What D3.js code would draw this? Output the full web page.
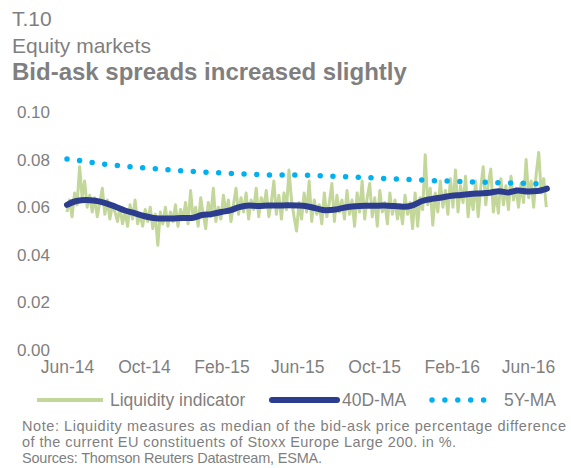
<!DOCTYPE html>
<html>
<head>
<meta charset="utf-8">
<script src="https://cdn.jsdelivr.net/npm/d3@7"></script>
<style>
  html, body { margin: 0; padding: 0; background: #fff; }
  svg { display: block; font-family: "Liberation Sans", Arial, sans-serif; }
</style>
</head>
<body>
<svg id="chart" width="571" height="468"></svg>
<script>
// Daily liquidity indicator, sampled every 4 days from 1 June 2014
const liquidityStart = new Date(2014, 5, 1);
const liquidityStepDays = 4;
const liquidity = [
  0.058, 0.063, 0.056, 0.066, 0.061, 0.077, 0.064, 0.071, 0.060, 0.065,
  0.058, 0.064, 0.056, 0.062, 0.068, 0.057, 0.063, 0.055, 0.061, 0.058,
  0.054, 0.060, 0.053, 0.058, 0.052, 0.061, 0.055, 0.063, 0.053, 0.057,
  0.052, 0.059, 0.054, 0.060, 0.051, 0.057, 0.044, 0.058, 0.053, 0.060,
  0.052, 0.058, 0.054, 0.061, 0.052, 0.059, 0.055, 0.062, 0.053, 0.067,
  0.055, 0.060, 0.052, 0.064, 0.057, 0.051, 0.062, 0.056, 0.068, 0.054,
  0.060, 0.055, 0.065, 0.058, 0.063, 0.054, 0.061, 0.068, 0.057, 0.064,
  0.058, 0.066, 0.055, 0.063, 0.059, 0.068, 0.056, 0.064, 0.060, 0.067,
  0.056, 0.062, 0.071, 0.057, 0.065, 0.055, 0.066, 0.059, 0.0756, 0.063,
  0.056, 0.050, 0.062, 0.055, 0.066, 0.058, 0.071, 0.054, 0.063, 0.057,
  0.061, 0.053, 0.066, 0.056, 0.062, 0.070, 0.054, 0.065, 0.058, 0.063,
  0.055, 0.067, 0.057, 0.063, 0.052, 0.066, 0.058, 0.071, 0.055, 0.064,
  0.070, 0.056, 0.064, 0.052, 0.067, 0.058, 0.062, 0.053, 0.066, 0.057,
  0.063, 0.055, 0.061, 0.053, 0.065, 0.057, 0.062, 0.051, 0.066, 0.052,
  0.064, 0.059, 0.082, 0.061, 0.068, 0.0525, 0.066, 0.058, 0.071, 0.060,
  0.067, 0.057, 0.072, 0.060, 0.0756, 0.058, 0.069, 0.062, 0.073, 0.056,
  0.066, 0.059, 0.071, 0.056, 0.068, 0.077, 0.061, 0.070, 0.076, 0.058,
  0.066, 0.0575, 0.072, 0.061, 0.069, 0.059, 0.073, 0.063, 0.068, 0.060,
  0.070, 0.062, 0.080, 0.064, 0.071, 0.060, 0.074, 0.083, 0.066, 0.072, 0.060
];

// 40-day moving average, twice a month (1st and 16th)
const ma40 = [
  0.0610, 0.0626, 0.0630, 0.0627, 0.0617, 0.0603, 0.0586, 0.0575, 0.0563, 0.0555,
  0.0552, 0.0553, 0.0555, 0.0555, 0.0567, 0.0571, 0.0580, 0.0588, 0.0600, 0.0607,
  0.0605, 0.0607, 0.0607, 0.0608, 0.0607, 0.0604, 0.0595, 0.0587, 0.0590, 0.0599,
  0.0604, 0.0606, 0.0606, 0.0607, 0.0605, 0.0602, 0.0608, 0.0626, 0.0635, 0.0641,
  0.0648, 0.0651, 0.0655, 0.0658, 0.0661, 0.0667, 0.0662, 0.0670, 0.0666, 0.0668,
  0.0678
];

// 5-year moving average, month starts from June 2014
const ma5y = [
  0.0803, 0.0792, 0.0780, 0.0772, 0.0765, 0.0759, 0.0753, 0.0748, 0.0744, 0.0740,
  0.0737, 0.0735, 0.0735, 0.0733, 0.0729, 0.0726, 0.0723, 0.0719, 0.0716, 0.0712,
  0.0709, 0.0706, 0.0704, 0.0702, 0.0700, 0.0697
];

const yTicks = [0, 0.02, 0.04, 0.06, 0.08, 0.10];
const xTickLabels = ["Jun-14", "Oct-14", "Feb-15", "Jun-15", "Oct-15", "Feb-16", "Jun-16"];
const seriesNames = ["Liquidity indicator", "40D-MA", "5Y-MA"];
const notes = [
  "Note: Liquidity measures as median of the bid-ask price percentage difference",
  "of the current EU constituents of Stoxx Europe Large 200. in %.",
  "Sources: Thomson Reuters Datastream, ESMA."
];

const colors = { liq: "#c4d79b", ma40: "#2c3d8f", ma5y: "#00b0f0", text: "#7f7f7f" };

const svg = d3.select("#chart");

const x = d3.scaleTime()
  .domain([new Date(2014, 5, 1), new Date(2016, 5, 1)])
  .range([67, 528]);
const y = d3.scaleLinear().domain([0, 0.10]).range([350, 112]);

// Headings
const head = svg.append("g").attr("fill", colors.text);
head.append("text").attr("x", 12).attr("y", 26).attr("font-size", 21).text("T.10");
head.append("text").attr("x", 12).attr("y", 53).attr("font-size", 21).text("Equity markets");
head.append("text").attr("x", 12).attr("y", 80).attr("font-size", 24)
  .attr("font-weight", "bold").text("Bid-ask spreads increased slightly");

// Y axis labels
const yAxis = d3.axisLeft(y).tickValues(yTicks).tickFormat(d3.format(".2f")).tickSize(0).tickPadding(0);
svg.append("g").attr("transform", "translate(50,0)").call(yAxis)
  .call(g => g.select(".domain").remove())
  .call(g => g.selectAll("text").attr("fill", colors.text).attr("font-size", 17)
    .attr("font-family", "Liberation Sans, Arial, sans-serif"));

// X axis labels every four months
const xTickDates = xTickLabels.map((_, i) => d3.timeMonth.offset(new Date(2014, 5, 1), 4 * i));
const xAxis = d3.axisBottom(x).tickValues(xTickDates)
  .tickFormat((d, i) => xTickLabels[i]).tickSize(0).tickPadding(0);
svg.append("g").attr("transform", "translate(0,361)").call(xAxis)
  .call(g => g.select(".domain").remove())
  .call(g => g.selectAll("text").attr("fill", colors.text).attr("font-size", 17.5)
    .attr("font-family", "Liberation Sans, Arial, sans-serif"));

// Series
const liqData = liquidity.map((v, i) => ({ d: d3.timeDay.offset(liquidityStart, i * liquidityStepDays), v }));
const ma40Data = ma40.map((v, k) => {
  const m = d3.timeMonth.offset(new Date(2014, 5, 1), Math.floor(k / 2));
  return { d: k % 2 ? d3.timeDay.offset(m, 15) : m, v };
});
const ma5yData = ma5y.map((v, k) => ({ d: d3.timeMonth.offset(new Date(2014, 5, 1), k), v }));

const straight = d3.line().x(p => x(p.d)).y(p => y(p.v));
const smooth = d3.line().x(p => x(p.d)).y(p => y(p.v)).curve(d3.curveMonotoneX);

svg.append("path").datum(liqData).attr("d", straight)
  .attr("fill", "none").attr("stroke", colors.liq).attr("stroke-width", 3)
  .attr("stroke-linejoin", "round");

svg.append("path").datum(ma40Data).attr("d", smooth)
  .attr("fill", "none").attr("stroke", colors.ma40).attr("stroke-width", 6)
  .attr("stroke-linejoin", "round").attr("stroke-linecap", "round");

svg.append("path").datum(ma5yData).attr("d", smooth)
  .attr("fill", "none").attr("stroke", colors.ma5y).attr("stroke-width", 5.5)
  .attr("stroke-linecap", "round").attr("stroke-dasharray", "0 12.7");

// Legend
const lg = svg.append("g");
const ly = 400;
lg.append("line").attr("x1", 37).attr("x2", 103).attr("y1", ly).attr("y2", ly)
  .attr("stroke", colors.liq).attr("stroke-width", 4);
lg.append("line").attr("x1", 272).attr("x2", 337).attr("y1", ly).attr("y2", ly)
  .attr("stroke", colors.ma40).attr("stroke-width", 6).attr("stroke-linecap", "round");
lg.append("line").attr("x1", 432).attr("x2", 484).attr("y1", ly).attr("y2", ly)
  .attr("stroke", colors.ma5y).attr("stroke-width", 5.5).attr("stroke-linecap", "round")
  .attr("stroke-dasharray", "0 12.9");
const legendX = [110, 342, 504];
lg.selectAll("text.lgt").data(seriesNames).join("text").attr("class", "lgt")
  .attr("x", (d, i) => legendX[i]).attr("y", ly + 6).attr("font-size", 17.5)
  .attr("fill", colors.text).text(d => d);

// Notes, each line set to its printed width
const noteWidths = [544, 434, 300];
svg.append("g").selectAll("text").data(notes).join("text")
  .attr("x", 22).attr("y", (d, i) => 431 + i * 16).attr("font-size", 14.5)
  .attr("textLength", (d, i) => noteWidths[i]).attr("lengthAdjust", "spacing")
  .attr("fill", colors.text).text(d => d);
</script>
</body>
</html>
